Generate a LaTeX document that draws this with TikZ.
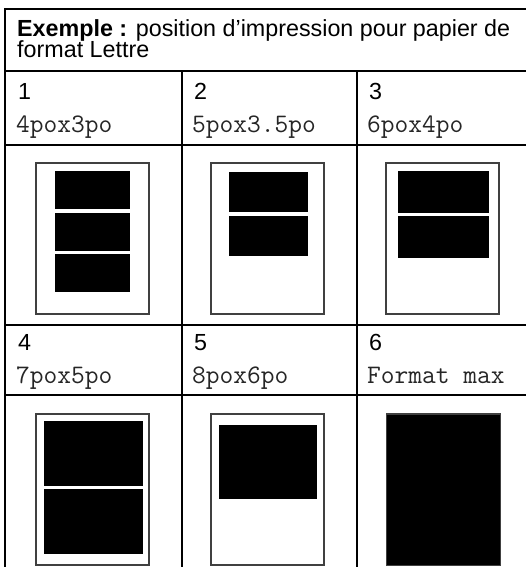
\documentclass[tikz,border=0pt]{standalone}
\usepackage{fontspec}
\setmainfont{Liberation Sans}
\begin{document}
\begin{tikzpicture}[x=1pt,y=-1pt,
  gridline/.style={line width=2pt,line cap=rect},
  paper/.style={draw=black!75,line width=1.1pt,fill=white},
  blk/.style={fill=black},
  lbl/.style={anchor=base west,inner sep=0pt,font=\fontsize{23.3}{21}\selectfont},
  sz/.style={anchor=base west,inner sep=0pt,text=black!85,font=\ttfamily\fontsize{26.7}{26}\selectfont}]
\useasboundingbox (0,0) rectangle (526,567);
\fill[white] (0,0) rectangle (526,567);
\begin{scope}
\clip (0,0) rectangle (526,567);
% table grid
\draw[gridline] (5,9) rectangle (531,580);
\draw[gridline] (5,71) -- (531,71);
\draw[gridline] (5,145) -- (531,145);
\draw[gridline] (5,325) -- (531,325);
\draw[gridline] (5,395) -- (531,395);
\draw[gridline] (181.5,71) -- (181.5,580);
\draw[gridline] (356.5,71) -- (356.5,580);
\end{scope}
% header
\node[lbl] (h1) at (17,37) {\textbf{Exemple :} position d'impression pour papier de};
\node[lbl] (h2) at (17,58) {format Lettre};
% row 1 labels
\node[lbl] (n1) at (18,100) {1};
\node[lbl] (n2) at (194,100) {2};
\node[lbl] (n3) at (369,100) {3};
\node[sz] (s1) at (16,132) {4pox3po};
\node[sz] (s2) at (192,132) {5pox3.5po};
\node[sz] (s3) at (367,132) {6pox4po};
% row 2 labels
\node[lbl] (n4) at (18,350) {4};
\node[lbl] (n5) at (194,350) {5};
\node[lbl] (n6) at (369,350) {6};
\node[sz] (s4) at (16,383) {7pox5po};
\node[sz] (s5) at (192,383) {8pox6po};
\node[sz] (s6) at (367,383) {Format max};
% row 1 papers
\draw[paper] (36,163) rectangle (149,314);
\fill[blk] (55,171) rectangle (130,209);
\fill[blk] (55,213) rectangle (130,251);
\fill[blk] (55,254) rectangle (130,292);
\draw[paper] (211,163) rectangle (324,314);
\fill[blk] (229,172) rectangle (308,212);
\fill[blk] (229,216) rectangle (308,256);
\draw[paper] (386,163) rectangle (499,314);
\fill[blk] (398,171) rectangle (489,213);
\fill[blk] (398,216) rectangle (489,258);
% row 2 papers
\draw[paper] (36,414) rectangle (149,565);
\fill[blk] (44,421) rectangle (142.5,486);
\fill[blk] (44,489) rectangle (142.5,554);
\draw[paper] (211,414) rectangle (324,565);
\fill[blk] (219,425) rectangle (317,499);
\draw[paper,fill=black] (386.5,414) rectangle (500.5,565.5);
\end{tikzpicture}
\end{document}
